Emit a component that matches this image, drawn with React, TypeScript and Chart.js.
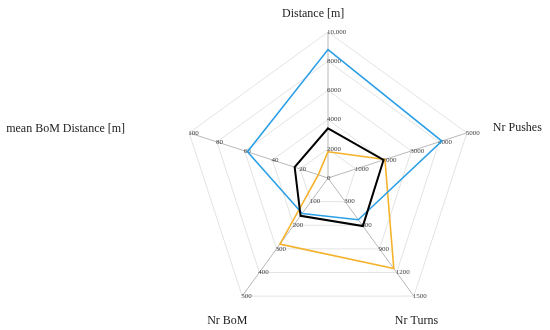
import React, { useEffect, useRef } from "react";
import { Chart, registerables } from "chart.js";

Chart.register(...registerables);

// Axis names (clockwise from top)
const axisNames = ["Distance [m]", "Nr Pushes", "Nr Turns", "Nr BoM", "mean BoM Distance [m]"];
// Per-axis maximum of its own scale
const axisMax = [10000, 5000, 1500, 500, 100];
// Per-axis tick labels (rings 1..5)
const distanceTicks = ["2000", "4000", "6000", "8000", "10,000"];
const pushesTicks = ["1000", "2000", "3000", "4000", "5000"];
const turnsTicks = ["300", "600", "900", "1200", "1500"];
const bomTicks = ["100", "200", "300", "400", "500"];
const meanBomTicks = ["20", "40", "60", "80", "100"];
const axisTicks = [distanceTicks, pushesTicks, turnsTicks, bomTicks, meanBomTicks];

// Series values (Distance, Nr Pushes, Nr Turns, Nr BoM, mean BoM Distance)
const blackSeries = [3400, 2000, 610, 160, 24];
const blueSeries = [8800, 4100, 530, 150, 58];
const orangeSeries = [1800, 2050, 1150, 280, 7];

const RINGS = 5;
const normalize = (vals: number[]) => vals.map((v, i) => (v / axisMax[i]) * RINGS);

// Title placement offsets relative to each axis tip (layout only)
const titleOffsets = [
  [-46, -18],
  [26, -5],
  [-19, 25],
  [-35, 25],
  [-183, -4],
];

const axisTextPlugin = {
  id: "axisText",
  beforeDatasetsDraw(chart: any) {
    const scale = chart.scales.r;
    const ctx = chart.ctx;
    ctx.save();
    ctx.font = "7px 'Liberation Serif', serif";
    ctx.fillStyle = "#444";
    ctx.textAlign = "left";
    ctx.textBaseline = "middle";
    ctx.fillText("0", scale.xCenter - 1, scale.yCenter);
    axisTicks.forEach((ticks, i) => {
      ticks.forEach((t, k) => {
        const p = scale.getPointPosition(i, scale.getDistanceFromCenterForValue(k + 1));
        ctx.fillText(t, p.x - 1, p.y);
      });
    });
    ctx.restore();
  },
  afterDraw(chart: any) {
    const scale = chart.scales.r;
    const ctx = chart.ctx;
    ctx.save();
    ctx.font = "12px 'Liberation Serif', serif";
    ctx.fillStyle = "#222";
    ctx.textAlign = "left";
    ctx.textBaseline = "middle";
    axisNames.forEach((name, i) => {
      const p = scale.getPointPosition(i, scale.getDistanceFromCenterForValue(RINGS));
      ctx.fillText(name, p.x + titleOffsets[i][0], p.y + titleOffsets[i][1]);
    });
    ctx.restore();
  },
};

export default function App() {
  const ref = useRef<HTMLCanvasElement>(null);
  useEffect(() => {
    const chart = new Chart(ref.current!, {
      type: "radar",
      data: {
        labels: axisNames,
        datasets: [
          {
            label: "black",
            data: normalize(blackSeries),
            borderColor: "#000000",
            borderWidth: 2,
            backgroundColor: "transparent",
            fill: false,
            pointRadius: 0,
          },
          {
            label: "blue",
            data: normalize(blueSeries),
            borderColor: "#2b9fe6",
            borderWidth: 1.6,
            backgroundColor: "transparent",
            fill: false,
            pointRadius: 0,
          },
          {
            label: "orange",
            data: normalize(orangeSeries),
            borderColor: "#f6b22c",
            borderWidth: 1.6,
            backgroundColor: "transparent",
            fill: false,
            pointRadius: 0,
          },
        ],
      },
      options: {
        animation: false,
        responsive: true,
        maintainAspectRatio: false,
        layout: { padding: { top: 32, bottom: 6, left: 182, right: 76 } },
        plugins: { legend: { display: false }, tooltip: { enabled: false } },
        elements: { line: { tension: 0 } },
        scales: {
          r: {
            min: 0,
            max: RINGS,
            ticks: { display: false, stepSize: 1 },
            pointLabels: { display: false },
            grid: { color: "#e3e3e3", lineWidth: 1, circular: false },
            angleLines: { color: "#b8b8b8", lineWidth: 1 },
          },
        },
      },
      plugins: [axisTextPlugin],
    });
    return () => chart.destroy();
  }, []);
  return (
    <div style={{ position: "fixed", left: 0, top: 0, width: 550, height: 330, background: "#fff" }}>
      <canvas ref={ref} />
    </div>
  );
}
